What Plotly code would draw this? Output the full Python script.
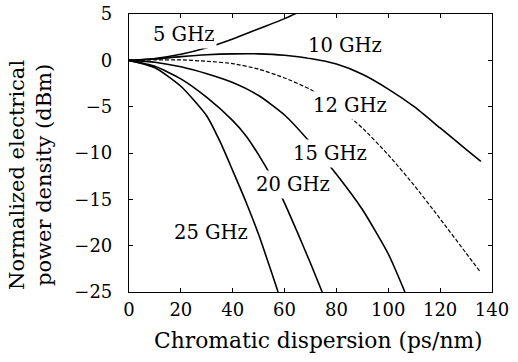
import plotly.graph_objects as go

# Chromatic dispersion (ps/nm) and normalized power (dBm)
d5 = [0, 10, 20, 30, 40, 50, 60, 67]
p5 = [0, 0.2, 0.65, 1.35, 2.3, 3.4, 4.5, 5.4]

d10 = [0, 10, 20, 30, 40, 50, 60, 70, 80, 90, 100, 110, 120, 130, 135.7]
p10 = [0, 0.15, 0.4, 0.6, 0.7, 0.7, 0.55, 0.2, -0.4, -1.5, -3.1, -5.0, -7.3, -9.6, -10.9]

d12 = [0, 10, 20, 30, 40, 50, 60, 70, 80, 90, 100, 110, 120, 130, 135.7]
p12 = [0, 0.05, 0.05, -0.1, -0.35, -0.95, -1.9, -3.15, -4.95, -7.3, -10.2, -13.5, -17.1, -20.8, -22.9]

d15 = [0, 10, 20, 30, 40, 50, 60, 70, 80, 90, 100, 106.4]
p15 = [0, -0.2, -0.7, -1.45, -2.4, -3.8, -5.9, -8.9, -12.3, -16.1, -20.9, -25]

d20 = [0, 10, 20, 30, 40, 45, 50, 55, 60, 65, 70, 74.5]
p20 = [0, -0.65, -2.0, -4.0, -6.5, -8.1, -10.2, -12.6, -15.4, -18.6, -21.9, -25]

d25 = [0, 10, 20, 30, 35, 40, 45, 50, 55, 57.5]
p25 = [0, -0.8, -2.8, -6.0, -8.7, -11.9, -15.2, -18.8, -22.9, -25]

labels = ["5 GHz", "10 GHz", "12 GHz", "15 GHz", "20 GHz", "25 GHz"]
label_x = [21.2, 83.3, 85.2, 77.5, 63.1, 31.8]
label_y = [2.8, 1.6, -4.82, -10.05, -13.45, -18.6]
label_pad = [2, 0, 2, 2, 2, 2]

x_ticks = [0, 20, 40, 60, 80, 100, 120, 140]
y_ticks = [-25, -20, -15, -10, -5, 0, 5]

FONT = "DejaVu Serif"

fig = go.Figure()
series = [(d5, p5, "solid", 1.6), (d10, p10, "solid", 1.6), (d12, p12, "4px,2px", 1.2),
          (d15, p15, "solid", 1.6), (d20, p20, "solid", 1.6), (d25, p25, "solid", 1.6)]
for (xs, ys, dash, w), name in zip(series, labels):
    fig.add_trace(go.Scatter(x=xs, y=ys, mode="lines", name=name,
                             line=dict(color="black", width=w, dash=dash, shape="spline", smoothing=0.6)))

for t, lx, ly, pad in zip(labels, label_x, label_y, label_pad):
    fig.add_annotation(x=lx, y=ly, text=t, showarrow=False, bgcolor="white", borderpad=pad,
                       font=dict(family=FONT, size=19.5, color="black"))

# axis titles placed as annotations (paper coordinates)
fig.add_annotation(xref="paper", yref="paper", x=0.522, y=-0.175, text="Chromatic dispersion (ps/nm)",
                   showarrow=False, xanchor="center", yanchor="middle",
                   font=dict(family=FONT, size=21.8, color="black"))
fig.add_annotation(xref="paper", yref="paper", x=-0.27, y=0.421,
                   text="Normalized electrical<br>power density (dBm)", textangle=-90,
                   showarrow=False, xanchor="center", yanchor="middle",
                   font=dict(family=FONT, size=21, color="black"))

axis_common = dict(showgrid=False, zeroline=False, showline=True, linecolor="black", linewidth=1.2,
                   mirror="ticks", ticks="inside", ticklen=4, tickwidth=1, tickcolor="black",
                   automargin=False,
                   tickfont=dict(family=FONT, size=18, color="black"))

fig.update_xaxes(range=[0, 140], tickvals=x_ticks, ticklabelstandoff=1, **axis_common)
fig.update_yaxes(range=[-25, 5], tickvals=y_ticks, ticklabelstandoff=12, **axis_common)

fig.update_layout(width=518, height=362, margin=dict(l=129, r=26, t=14, b=70),
                  showlegend=False, plot_bgcolor="white", paper_bgcolor="white")

fig.write_html("out.html")
